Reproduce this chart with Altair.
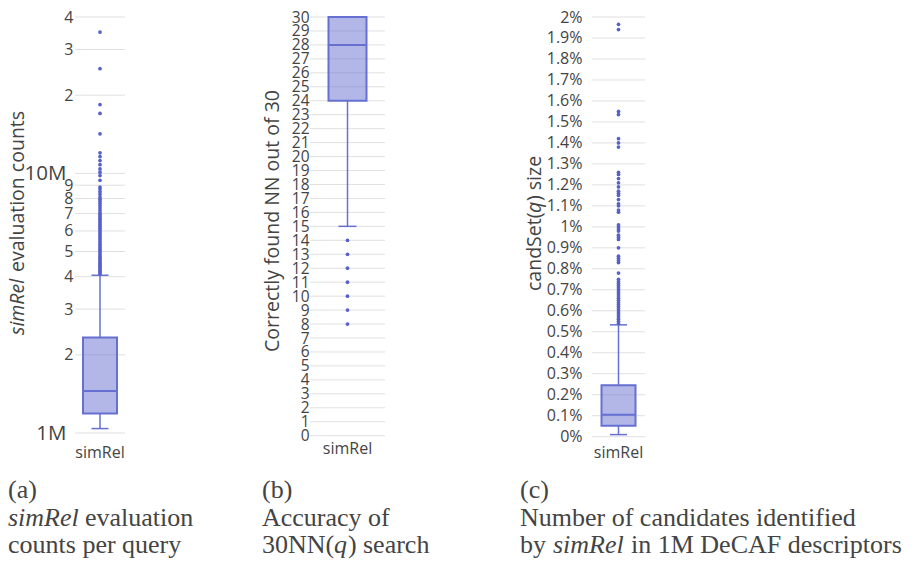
import altair as alt
import pandas as pd

CAT = ["simRel"]
STAT_NAMES = ["lower", "q1", "median", "q3", "upper"]

# (a) simRel evaluation counts per query (log scale)
a_stats = [1.04e6, 1.19e6, 1.45e6, 2.33e6, 4.05e6]
a_outliers = [4.1e6, 4.15e6, 4.2e6, 4.26e6, 4.32e6, 4.38e6, 4.44e6, 4.5e6, 4.57e6, 4.64e6,
              4.71e6, 4.78e6, 4.86e6, 4.94e6, 5.02e6, 5.1e6, 5.18e6, 5.27e6, 5.36e6, 5.45e6,
              5.55e6, 5.65e6, 5.75e6, 5.85e6, 5.95e6, 6.05e6, 6.15e6, 6.25e6, 6.35e6, 6.45e6,
              6.55e6, 6.65e6, 6.75e6, 6.85e6, 6.95e6, 7.05e6, 7.2e6, 7.35e6, 7.5e6, 7.65e6,
              7.8e6, 7.95e6, 8.1e6, 8.3e6, 8.5e6, 8.7e6, 8.85e6, 9.4e6, 9.8e6, 10.1e6,
              10.4e6, 10.8e6, 11.2e6, 11.6e6, 12.0e6, 14.2e6, 17.0e6, 18.4e6, 25.3e6, 35.0e6]
a_ticks = [1e6, 2e6, 3e6, 4e6, 5e6, 6e6, 7e6, 8e6, 9e6, 1e7, 2e7, 3e7, 4e7]

# (b) accuracy of 30NN(q) search
b_stats = [15, 24, 28, 30, 30]
b_outliers = [8, 9, 10, 11, 12, 13, 14]
b_ticks = list(range(0, 31))

# (c) candSet(q) size, in percent of 1M
c_stats = [0.01, 0.052, 0.105, 0.245, 0.533]
c_outliers = [0.54, 0.55, 0.56, 0.57, 0.58, 0.59, 0.60, 0.61, 0.62, 0.63, 0.64, 0.65, 0.66,
              0.67, 0.68, 0.69, 0.70, 0.71, 0.72, 0.73, 0.74, 0.75, 0.78, 0.83, 0.84, 0.85,
              0.86, 0.90, 0.94, 0.95, 0.96, 0.98, 0.99, 1.00, 1.01, 1.07, 1.08, 1.10, 1.11,
              1.13, 1.15, 1.16, 1.17, 1.19, 1.21, 1.23, 1.25, 1.26, 1.38, 1.40, 1.42, 1.535,
              1.55, 1.94, 1.965]
c_ticks = [round(0.1 * i, 1) for i in range(21)]

a_caption = ["(a)", ["simRel", "evaluation"], "counts per query"]
b_caption = ["(b)", "Accuracy of", ["30NN(", "q", ")", "search"]]
c_caption = ["(c)", "Number of candidates identified", ["by", "simRel", "in 1M DeCAF descriptors"]]
a_title = ["simRel", "evaluation counts"]
b_title = "Correctly found NN out of 30"
c_title = ["candSet(", "q", ") size"]

LINE = "#6670d2"
PT = "#5661cb"
TXT = "#444444"
GRID = "#e0e0e0"
SANS = "Open Sans"
SERIF = "Liberation Serif"
CAP = 26


def panel(stats, outliers, ticks, yscale, yaxis, xrange, box_w, cap_w, xaxis):
    sdf = pd.DataFrame([dict(zip(STAT_NAMES, stats), cat=CAT[0])])
    odf = pd.DataFrame({"cat": CAT * len(outliers), "v": outliers})
    tdf = pd.DataFrame({"v": ticks})
    xs = alt.Scale(domain=CAT, range=xrange, paddingInner=0, paddingOuter=0)
    X = alt.X("cat:N", scale=xs, axis=xaxis)

    def Y(f):
        return alt.Y(f"{f}:Q", scale=yscale, axis=yaxis)

    grid = alt.Chart(tdf).mark_rule(color=GRID, strokeWidth=1).encode(
        x=alt.value(xrange[0]), x2=alt.value(xrange[1]), y=Y("v"))
    w_lo = alt.Chart(sdf).mark_rule(color=LINE, strokeWidth=1.5).encode(x=X, y=Y("lower"), y2="q1")
    w_hi = alt.Chart(sdf).mark_rule(color=LINE, strokeWidth=1.5).encode(x=X, y=Y("q3"), y2="upper")
    box = alt.Chart(sdf).mark_bar(size=box_w, fill=LINE, fillOpacity=0.5, stroke=LINE,
                                  strokeWidth=2).encode(x=X, y=Y("q1"), y2="q3")
    med = alt.Chart(sdf).mark_tick(size=box_w, thickness=2, color=LINE, opacity=1).encode(x=X, y=Y("median"))
    cap_lo = alt.Chart(sdf).mark_tick(size=cap_w, thickness=1.5, color=LINE, opacity=1).encode(x=X, y=Y("lower"))
    cap_hi = alt.Chart(sdf).mark_tick(size=cap_w, thickness=1.5, color=LINE, opacity=1).encode(x=X, y=Y("upper"))
    pts = alt.Chart(odf).mark_circle(size=14, color=PT, opacity=1).encode(x=X, y=Y("v"))
    return alt.layer(grid, w_lo, w_hi, box, med, cap_lo, cap_hi, pts)


def yaxis(offset, values, pad, size, **kw):
    return alt.Axis(orient="left", offset=offset, values=values, labelPadding=pad, labelFontSize=size,
                    domain=False, ticks=False, grid=False, title=None, labelColor=TXT, labelFont=SANS,
                    labelOverlap=False, labelBound=False, **kw)


def xaxis(offset):
    return alt.Axis(orient="bottom", offset=offset, domain=False, ticks=False, grid=False, title=None,
                    labelColor=TXT, labelFont=SANS, labelFontSize=16, labelPadding=0, labelAngle=0)


BIG = "datum.value == 1000000 || datum.value == 10000000"

pA = panel(a_stats, a_outliers, a_ticks,
           alt.Scale(type="log", domain=[1e6, 4e7], range=[425, 9], nice=False),
           yaxis(-67, a_ticks,
                 {"condition": {"test": BIG, "value": 9}, "value": 2},
                 {"condition": {"test": BIG, "value": 20.5}, "value": 16},
                 labelExpr="datum.value == 1000000 ? '1M' : datum.value == 10000000 ? '10M' : "
                           "format(round(datum.value / pow(10, floor(log(datum.value) / LN10 + 1e-9))), 'd')"),
           [67, 117], 34, 17, xaxis(-4))

pB = panel(b_stats, b_outliers, b_ticks,
           alt.Scale(domain=[0, 30], range=[427.7, 9], nice=False),
           yaxis(-302, b_ticks, 1, 15.5),
           [302, 377], 38, 18, xaxis(-8))

pC = panel(c_stats, c_outliers, c_ticks,
           alt.Scale(domain=[0, 2], range=[428.7, 9], nice=False),
           yaxis(-584, c_ticks, 10, 16, labelExpr="format(datum.value, '.1~f') + '%'"),
           [584, 637], 34, 17, xaxis(-4))


def txt(s, x, y, font=SANS, size=19.5, style="normal", angle=0, align="left", baseline="alphabetic",
        color=TXT):
    return alt.Chart(pd.DataFrame({"t": [s]})).mark_text(
        font=font, fontSize=size, fontStyle=style, angle=angle, align=align, baseline=baseline,
        color=color).encode(text="t:N", x=alt.value(x), y=alt.value(y))


texts = [
    # axis titles
    txt(a_title[0], 10, 327, style="italic", angle=270, baseline="middle"),
    txt(a_title[1], 10, 264, angle=270, baseline="middle"),
    txt(b_title, 265, 213, angle=270, align="center", baseline="middle"),
    txt(c_title[0], 527, 283, angle=270, baseline="middle"),
    txt(c_title[1], 527, 205, style="italic", angle=270, baseline="middle"),
    txt(c_title[2], 527, 193, angle=270, baseline="middle"),
    # captions (a)
    txt(a_caption[0], 0, 490, font=SERIF, size=CAP),
    txt(a_caption[1][0], 0, 518, font=SERIF, size=CAP, style="italic"),
    txt(a_caption[1][1], 77, 518, font=SERIF, size=CAP),
    txt(a_caption[2], 0, 545, font=SERIF, size=CAP),
    # captions (b)
    txt(b_caption[0], 254, 490, font=SERIF, size=CAP),
    txt(b_caption[1], 254, 518, font=SERIF, size=CAP),
    txt(b_caption[2][0], 254, 545, font=SERIF, size=CAP),
    txt(b_caption[2][1], 326, 545, font=SERIF, size=CAP, style="italic"),
    txt(b_caption[2][2], 340, 545, font=SERIF, size=CAP),
    txt(b_caption[2][3], 355, 545, font=SERIF, size=CAP),
    # captions (c)
    txt(c_caption[0], 512, 490, font=SERIF, size=CAP),
    txt(c_caption[1], 512, 518, font=SERIF, size=CAP),
    txt(c_caption[2][0], 512, 545, font=SERIF, size=CAP),
    txt(c_caption[2][1], 545, 545, font=SERIF, size=CAP, style="italic"),
    txt(c_caption[2][2], 623, 545, font=SERIF, size=CAP),
]

chart = alt.layer(pA, pB, pC, *texts).resolve_scale(
    x="independent", y="independent").resolve_axis(
    x="independent", y="independent").properties(
    width=900, height=440, autosize=alt.AutoSizeParams(type="none"),
    padding={"left": 0, "top": 0, "right": 0, "bottom": 112}).configure_view(stroke=None)

chart.save("out.html", embed_options={"renderer": "svg", "actions": False})
